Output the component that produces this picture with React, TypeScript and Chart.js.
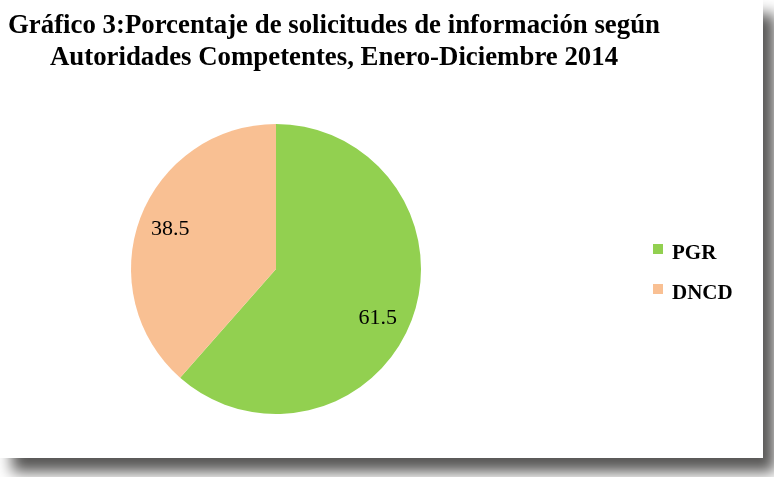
import React, { useEffect, useRef } from "react";
import { Chart, registerables } from "chart.js";

Chart.register(...registerables);

const titleLines = [
  "Gráfico 3:Porcentaje de solicitudes de información según",
  "Autoridades Competentes, Enero-Diciembre 2014",
];
const categories = ["PGR", "DNCD"];
const values = [61.5, 38.5];
const valueLabels = ["61.5", "38.5"];
const sliceColors = ["#92D050", "#F9C093"];

const W = 763;
const H = 458;

const titlePlugin = {
  id: "customTitle",
  afterDraw(chart: any) {
    const ctx = chart.ctx as CanvasRenderingContext2D;
    ctx.save();
    ctx.fillStyle = "#000";
    ctx.font = "bold 27px 'Liberation Serif', 'Times New Roman', serif";
    ctx.textAlign = "center";
    ctx.textBaseline = "alphabetic";
    const target = 652;
    const sx = Math.min(1.05, target / ctx.measureText(titleLines[0]).width);
    const pos = [
      { x: 334, y: 33 },
      { x: 334, y: 65 },
    ];
    titleLines.forEach((line, i) => {
      ctx.save();
      ctx.translate(pos[i].x, pos[i].y);
      ctx.scale(sx, 1);
      ctx.fillText(line, 0, 0);
      ctx.restore();
    });
    ctx.restore();
  },
};

const labelPlugin = {
  id: "sliceLabels",
  afterDatasetsDraw(chart: any) {
    const ctx = chart.ctx as CanvasRenderingContext2D;
    const meta = chart.getDatasetMeta(0);
    ctx.save();
    ctx.fillStyle = "#000";
    ctx.font = "22px 'Liberation Serif', 'Times New Roman', serif";
    ctx.textAlign = "center";
    ctx.textBaseline = "middle";
    meta.data.forEach((arc: any, i: number) => {
      const p = arc.getProps(["x", "y", "startAngle", "endAngle", "outerRadius"], true);
      const a = (p.startAngle + p.endAngle) / 2 + (i === 0 ? 0.09 : 0);
      const r = p.outerRadius * 0.78;
      ctx.fillText(valueLabels[i], p.x + Math.cos(a) * r, p.y + Math.sin(a) * r);
    });
    ctx.restore();
  },
};

const legendPlugin = {
  id: "customLegend",
  afterDraw(chart: any) {
    const ctx = chart.ctx as CanvasRenderingContext2D;
    ctx.save();
    ctx.font = "bold 21px 'Liberation Serif', 'Times New Roman', serif";
    ctx.textAlign = "left";
    ctx.textBaseline = "alphabetic";
    const labels = chart.data.labels as string[];
    const colors = chart.data.datasets[0].backgroundColor as string[];
    labels.forEach((lab, i) => {
      const y0 = 244 + i * 40;
      ctx.fillStyle = colors[i];
      ctx.fillRect(653, y0, 10, 10);
      ctx.fillStyle = "#000";
      ctx.fillText(lab, 672, y0 + 15);
    });
    ctx.restore();
  },
};

export default function App() {
  const ref = useRef<HTMLCanvasElement | null>(null);

  useEffect(() => {
    if (!ref.current) return;
    const chart = new Chart(ref.current, {
      type: "pie",
      data: {
        labels: categories,
        datasets: [
          {
            data: values,
            backgroundColor: sliceColors,
            borderWidth: 0,
          },
        ],
      },
      options: {
        responsive: false,
        animation: false,
        layout: { padding: { top: 124, bottom: 44, left: 131, right: 342 } },
        plugins: {
          legend: { display: false },
          title: { display: false },
          tooltip: { enabled: false },
        },
      },
      plugins: [titlePlugin, labelPlugin, legendPlugin],
    });
    return () => chart.destroy();
  }, []);

  return (
    <div
      style={{
        position: "absolute",
        left: 0,
        top: 0,
        width: W,
        height: H,
        background: "#fff",
        boxShadow: "12px 14px 14px rgb(88,87,86)",
      }}
    >
      <canvas ref={ref} width={W} height={H} style={{ display: "block" }} />
    </div>
  );
}
